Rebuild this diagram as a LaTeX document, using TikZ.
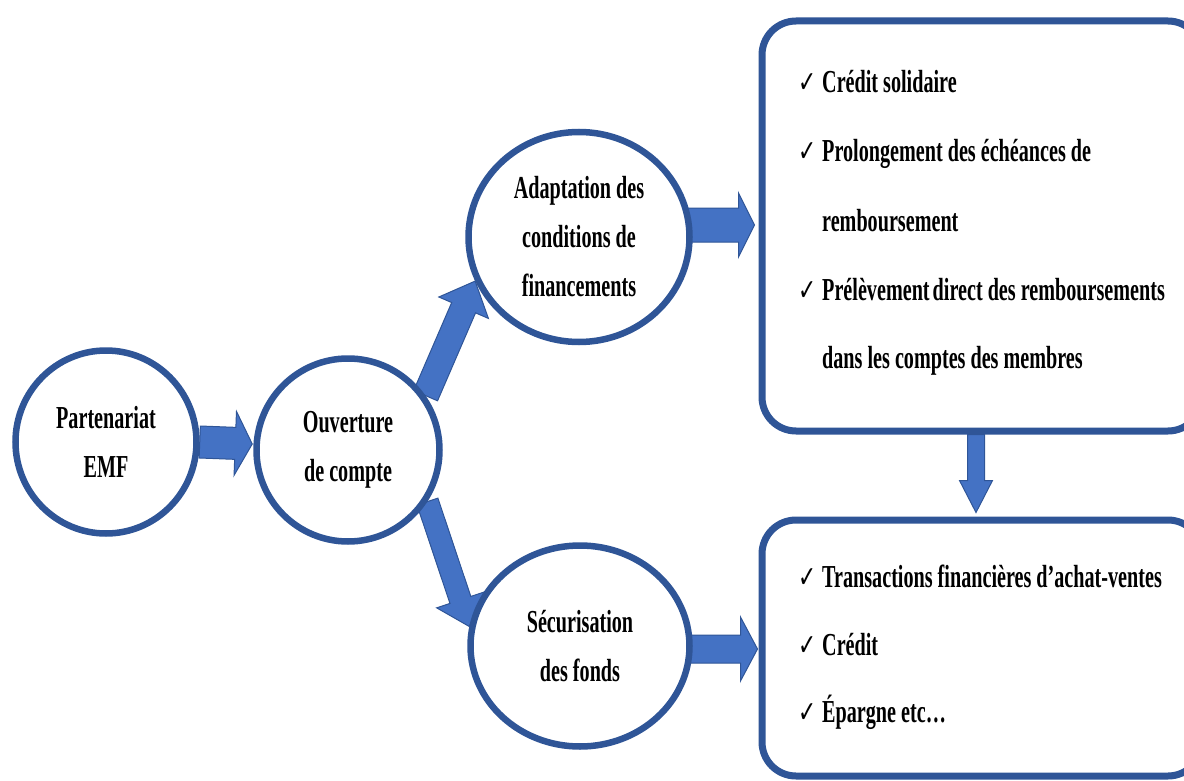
\documentclass[tikz,border=0pt]{standalone}
\usepackage{fontspec}
\setmainfont{Liberation Serif}[FakeStretch=0.63]
\newfontfamily\chkfont{DejaVu Sans}[FakeStretch=0.72]
\usetikzlibrary{shapes.geometric,calc}
\pgfdeclarelayer{bg}
\pgfsetlayers{bg,main}
\definecolor{bord}{RGB}{47,85,151}
\definecolor{afill}{RGB}{68,114,196}
\newcommand{\ck}{\makebox[24pt][l]{\fontsize{30}{30}\selectfont\mdseries\chkfont ✓}}
\newcommand{\blockarrow}[5]{%
  \coordinate (ba-s) at (#1);
  \coordinate (ba-t) at (#2);
  \coordinate (ba-h) at ($(ba-t)!#5!(ba-s)$);
  \draw[barrow] ($(ba-s)!#3!90:(ba-t)$) -- ($(ba-h)!#3!90:(ba-t)$) -- ($(ba-h)!#4!90:(ba-t)$) -- (ba-t) -- ($(ba-h)!#4!-90:(ba-t)$) -- ($(ba-h)!#3!-90:(ba-t)$) -- ($(ba-s)!#3!-90:(ba-t)$) -- cycle;
}
\tikzset{
  circ/.style={ellipse, draw=bord, line width=6.5pt, fill=white, align=center, inner sep=0pt,
    font=\fontsize{32}{49}\selectfont\bfseries},
  rbox/.style={rectangle, draw=bord, line width=7pt, fill=white, rounded corners=34pt, inner sep=0pt},
  btxt/.style={anchor=base west, inner sep=0pt, font=\fontsize{32}{40}\selectfont\bfseries},
  barrow/.style={fill=afill, draw=bord, line width=1pt, line join=miter}
}
\begin{document}
\begin{tikzpicture}[x=1pt,y=-1pt]
\useasboundingbox (0,0) rectangle (1184,781);
\clip (0,0) rectangle (1184,781);
% circles
\node[circ, minimum width=181pt, minimum height=183pt] (emf) at (106,442) {Partenariat\\EMF};
\node[circ, minimum width=183pt, minimum height=183pt] (ouv) at (348,450) {Ouverture\\de compte};
\node[circ, minimum width=221pt, minimum height=210pt] (adapt) at (579,237) {Adaptation des\\conditions de\\financements};
\node[circ, minimum width=219pt, minimum height=201pt] (secu) at (580,646) {Sécurisation\\des fonds};
% boxes
\node[rbox, minimum width=440pt, minimum height=410pt] (box1) at (982,226) {};
\node[rbox, minimum width=440pt, minimum height=256pt] (box2) at (982,648) {};
% box 1 text
\node[btxt] (t1) at (798,93) {\ck Crédit solidaire};
\node[btxt] (t2) at (798,162) {\ck Prolongement des échéances de};
\node[btxt] (t3) at (822,231) {remboursement};
\node[btxt] (t4) at (798,300) {\ck Prélèvement\hspace{-2pt} direct des remboursements};
\node[btxt] (t5) at (822,368) {dans les comptes des membres};
% box 2 text
\node[btxt] (u1) at (798,587) {\ck Transactions financières d’achat-ventes};
\node[btxt] (u2) at (798,655) {\ck Crédit};
\node[btxt] (u3) at (798,722) {\ck Épargne etc…};
% arrows
\begin{pgfonlayer}{bg}
\blockarrow{emf.east}{$(ouv.west |- emf.east)+(-1,2)$}{16pt}{32pt}{17pt}
\blockarrow{ouv.35}{adapt.203}{13pt}{27pt}{29pt}
\blockarrow{ouv.-33}{secu.170}{11pt}{25pt}{28pt}
\blockarrow{$(adapt.east)+(-6,-12)$}{$(box1.west |- adapt.east)+(-4,-12)$}{17pt}{32pt}{16pt}
\blockarrow{$(secu.east)+(-6,3)$}{$(box2.west |- secu.east)+(-1,3)$}{14pt}{32pt}{17pt}
\blockarrow{$(box1.south)+(-6,0)$}{$(box2.north)+(-6,-4)$}{8.5pt}{16.5pt}{32pt}
\end{pgfonlayer}
\end{tikzpicture}
\end{document}
